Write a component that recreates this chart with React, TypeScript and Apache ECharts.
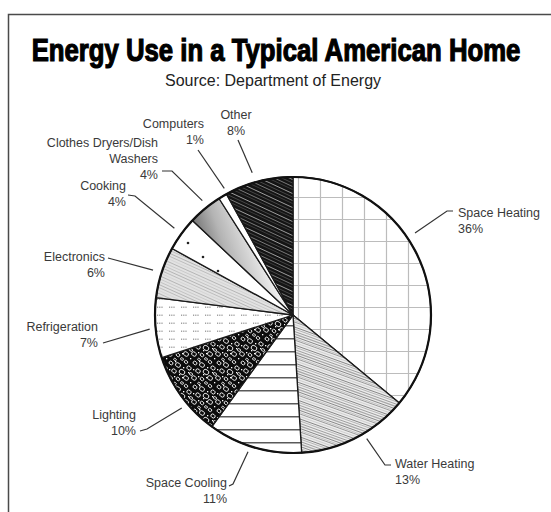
import React, { useEffect, useRef } from "react";
import * as echarts from "echarts";

// Shares of home energy use, in percent, clockwise from 12 o'clock
const categories = [
  "Space Heating",
  "Water Heating",
  "Space Cooling",
  "Lighting",
  "Refrigeration",
  "Electronics",
  "Cooking",
  "Clothes Dryers/Dish Washers",
  "Computers",
  "Other",
];
const shares = [36, 13, 11, 10, 7, 6, 4, 4, 1, 8];

const TITLE = "Energy Use in a Typical American Home";
const SUBTITLE = "Source: Department of Energy";

// Pie geometry (px)
const CX = 293;
const CY = 315;
const RADIUS = 138;

// Leader-line placement for each label: angle (deg) where the line meets the
// rim, gap beyond the rim, the rest of the line, and the text anchor.
type Guide = { angle: number; gap: number; path: number[][]; text: number[]; align: string };
const guides: Guide[] = [
  { angle: 33.9, gap: 9, path: [[447, 211], [453, 211]], text: [458, 221], align: "left" },
  { angle: -59.2, gap: 6, path: [[385, 465], [391, 465]], text: [395, 472], align: "left" },
  { angle: 251.8, gap: 6, path: [[233, 484], [229, 486]], text: [227, 491], align: "right" },
  { angle: 219.9, gap: 7, path: [[147, 429], [140, 431]], text: [136, 423], align: "right" },
  { angle: 185.6, gap: 6, path: [[103, 343], [103, 343]], text: [98, 335], align: "right" },
  { angle: 162.2, gap: 9, path: [[108, 258], [108, 258]], text: [105, 265], align: "right" },
  { angle: 143.8, gap: 9, path: [[135, 196], [128, 195]], text: [126, 194], align: "right" },
  { angle: 128.4, gap: 8, path: [[172, 171], [162, 171]], text: [158, 159], align: "right" },
  { angle: 118.5, gap: 6, path: [[198, 150], [198, 150]], text: [204, 132], align: "right" },
  { angle: 106, gap: 10, path: [[238, 140], [238, 140]], text: [236, 123], align: "center" },
];

type Ctx = CanvasRenderingContext2D;

function tile(w: number, h: number, bg: string, draw: (ctx: Ctx) => void) {
  const c = document.createElement("canvas");
  c.width = w;
  c.height = h;
  const ctx = c.getContext("2d") as Ctx;
  ctx.fillStyle = bg;
  ctx.fillRect(0, 0, w, h);
  draw(ctx);
  return { image: c, repeat: "repeat", imageWidth: w, imageHeight: h };
}

// Seamless diagonal hatching: lines of slope h/w, repeated every h vertically
function hatch(ctx: Ctx, w: number, h: number, lines: [number, string, number][]) {
  for (const [o, color, width] of lines) {
    ctx.strokeStyle = color;
    ctx.lineWidth = width;
    for (let k = -2; k <= 1; k++) {
      ctx.beginPath();
      ctx.moveTo(-w, o + k * h - h);
      ctx.lineTo(2 * w, o + k * h + 2 * h);
      ctx.stroke();
    }
  }
}

function buildFills() {
  const grid = tile(22, 22, "#ffffff", (ctx) => {
    ctx.strokeStyle = "#bcbcbc";
    ctx.lineWidth = 1.2;
    ctx.beginPath();
    ctx.moveTo(12.5, 0);
    ctx.lineTo(12.5, 22);
    ctx.moveTo(0, 21.5);
    ctx.lineTo(22, 21.5);
    ctx.stroke();
  });

  const water = tile(50, 18, "#ececec", (ctx) =>
    hatch(ctx, 50, 18, [
      [0, "#9a9a9a", 1],
      [2.5, "#c8c8c8", 0.8],
      [5, "#7a7a7a", 0.9],
      [7, "#b5b5b5", 1],
      [9.5, "#8a8a8a", 0.8],
      [12, "#a8a8a8", 1.2],
      [14.5, "#6e6e6e", 0.8],
      [16.5, "#c4c4c4", 1],
    ])
  );

  const cooling = tile(6, 13, "#ffffff", (ctx) => {
    ctx.fillStyle = "#5a5a5a";
    ctx.fillRect(0, 0, 6, 1.5);
  });

  const lighting = tile(24, 24, "#0c0c0c", (ctx) => {
    const rings: [number, number, number][] = [
      [3, 3, 1.8], [10, 5, 2.3], [18, 2, 1.6], [21, 8, 2], [6, 11, 2.1],
      [14, 12, 2.6], [2, 18, 2.2], [10, 19, 1.7], [18, 18, 2.3], [23, 14, 1.4],
      [14, 23, 1.3], [7, 23.5, 1.2],
    ];
    ctx.strokeStyle = "#eeeeee";
    ctx.lineWidth = 1;
    for (const [x, y, r] of rings) {
      for (const dx of [-24, 0, 24]) {
        for (const dy of [-24, 0, 24]) {
          ctx.beginPath();
          ctx.ellipse(x + dx, y + dy, r * 1.15, r * 0.9, 0.6, 0, Math.PI * 2);
          ctx.stroke();
        }
      }
    }
    ctx.fillStyle = "#ffffff";
    for (const [x, y] of [[7, 1], [15, 7], [1, 9], [20, 12], [6, 16], [14, 17], [22, 22], [11, 14]]) {
      ctx.fillRect(x, y, 1.3, 1.3);
    }
  });

  const fridge = tile(12, 8, "#ffffff", (ctx) => {
    ctx.fillStyle = "#8a8a8a";
    for (const x of [1, 3.2, 5.4]) ctx.fillRect(x, 2.6, 1.2, 1.2);
  });

  const electronics = tile(40, 18, "#e2e2e2", (ctx) =>
    hatch(ctx, 40, 18, [
      [0, "#bdbdbd", 1],
      [3, "#d0d0d0", 0.8],
      [6, "#b0b0b0", 0.9],
      [9, "#cacaca", 1],
      [12, "#bababa", 0.8],
      [15, "#a8a8a8", 0.8],
    ])
  );

  const cooking = tile(30, 28, "#ffffff", (ctx) => {
    ctx.fillStyle = "#222222";
    for (const [x, y] of [[8, 19], [23, 5]]) {
      ctx.beginPath();
      ctx.arc(x, y, 1.3, 0, Math.PI * 2);
      ctx.fill();
    }
  });

  const dryers = new echarts.graphic.LinearGradient(
    185, 228, 250, 205,
    [
      { offset: 0, color: "#5c5c5c" },
      { offset: 0.45, color: "#b4b4b4" },
      { offset: 1, color: "#f4f4f4" },
    ],
    true
  );

  const other = tile(30, 14, "#141414", (ctx) =>
    hatch(ctx, 30, 14, [
      [1, "#d8d8d8", 0.7],
      [4.5, "#6a6a6a", 0.6],
      [8, "#bdbdbd", 0.6],
      [11, "#555555", 0.6],
    ])
  );

  return [grid, water, cooling, lighting, fridge, electronics, cooking, dryers, "#ffffff", other];
}

export default function App() {
  const ref = useRef<HTMLDivElement>(null);

  useEffect(() => {
    if (!ref.current) return;
    const chart = echarts.init(ref.current, null, { renderer: "svg" });
    const fills = buildFills();

    chart.setOption({
      animation: false,
      backgroundColor: "#ffffff",
      graphic: [
        {
          type: "rect",
          shape: { x: 8.5, y: 14.5, width: 600, height: 560 },
          style: { fill: "none", stroke: "#4a4a4a", lineWidth: 1.5 },
          silent: true,
        },
        {
          type: "text",
          x: 276,
          y: 50,
          scaleX: 0.83,
          silent: true,
          style: {
            text: TITLE,
            fontFamily: "Liberation Sans",
            fontWeight: "bold",
            fontSize: 31,
            fill: "#000000",
            stroke: "#000000",
            lineWidth: 1.2,
            textAlign: "center",
            textVerticalAlign: "middle",
          },
        },
        {
          type: "text",
          x: 273,
          y: 80,
          silent: true,
          style: {
            text: SUBTITLE,
            fontFamily: "Liberation Sans",
            fontSize: 16,
            fill: "#222222",
            textAlign: "center",
            textVerticalAlign: "middle",
          },
        },
        {
          type: "circle",
          shape: { cx: CX, cy: CY, r: RADIUS },
          style: { fill: "none", stroke: "#111111", lineWidth: 2.2 },
          silent: true,
          z: 100,
        },
      ],
      series: [
        {
          type: "pie",
          center: [CX, CY],
          radius: [0, RADIUS],
          startAngle: 90,
          clockwise: true,
          avoidLabelOverlap: false,
          data: categories.map((name, i) => ({
            name,
            value: shares[i],
            itemStyle: { color: fills[i] },
          })),
          itemStyle: { borderColor: "#1a1a1a", borderWidth: 1.3 },
          emphasis: { disabled: true },
          label: {
            show: true,
            formatter: (p: any) => `${p.name.replace("/Dish ", "/Dish\n")}\n${p.value}%`,
            fontFamily: "Liberation Sans",
            fontSize: 12.5,
            lineHeight: 16,
            color: "#3a3a3a",
          },
          labelLine: {
            show: true,
            lineStyle: { color: "#333333", width: 1.2 },
          },
          labelLayout: (params: any) => {
            const g = guides[params.dataIndex];
            const a = (g.angle * Math.PI) / 180;
            const r = RADIUS + g.gap;
            const start = [CX + r * Math.cos(a), CY - r * Math.sin(a)];
            return {
              x: g.text[0],
              y: g.text[1],
              align: g.align,
              verticalAlign: "middle",
              labelLinePoints: [start, ...g.path],
            };
          },
        },
      ],
    });

    return () => chart.dispose();
  }, []);

  return (
    <div
      ref={ref}
      style={{ position: "fixed", left: 0, top: 0, width: 551, height: 512 }}
    />
  );
}
